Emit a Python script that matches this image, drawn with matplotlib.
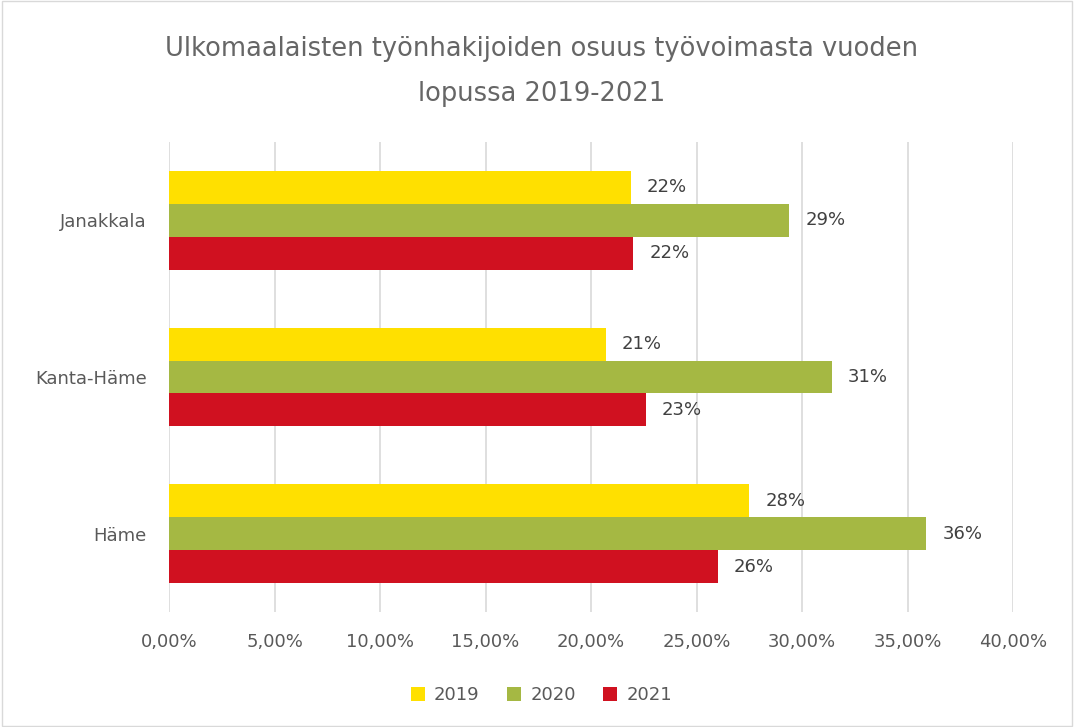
import numpy as np
import matplotlib.pyplot as plt
from matplotlib.patches import Rectangle
from matplotlib.ticker import FuncFormatter

# data (share, 0..1)
regions = ["Häme", "Kanta-Häme", "Janakkala"]
years = ["2019", "2020", "2021"]
share_2019 = [0.275, 0.207, 0.219]
share_2020 = [0.359, 0.314, 0.294]
share_2021 = [0.260, 0.226, 0.220]
colors = ["#FFE000", "#A5B843", "#D01120"]

title = "Ulkomaalaisten työnhakijoiden osuus työvoimasta vuoden\nlopussa 2019-2021"
text_col = "#595959"

plt.rcParams["font.family"] = ["DejaVu Sans"]

fig = plt.figure(figsize=(10.74, 7.27), dpi=100)
ax = fig.add_axes([0.1574, 0.1582, 0.7858, 0.6465])

# light frame round the whole chart
fig.patches.append(Rectangle((0.002, 0.002), 0.996, 0.996, transform=fig.transFigure,
                             fill=False, edgecolor="#D9D9D9", linewidth=1))

y = np.arange(len(regions))
h = 0.21
series = [share_2019, share_2020, share_2021]
for i, (vals, yr, col) in enumerate(zip(series, years, colors)):
    pos = y + (1 - i) * h
    bars = ax.barh(pos, vals, height=h, color=col, label=yr, zorder=3)
    for b, v in zip(bars, vals):
        ax.annotate(f"{v * 100:.0f}%", (v, b.get_y() + h / 2), xytext=(11.5, 0),
                    textcoords="offset points", ha="left", va="center",
                    fontsize=13, color="#404040")

ax.set_xlim(0, 0.40)
ax.set_ylim(-0.5, 2.5)
ax.set_xticks(np.arange(0, 0.401, 0.05))
ax.xaxis.set_major_formatter(FuncFormatter(lambda v, p: f"{v * 100:.2f}%".replace(".", ",")))
ax.set_yticks(y)
ax.set_yticklabels(regions)
ax.tick_params(axis="both", length=0, labelsize=13, colors=text_col)
ax.tick_params(axis="x", pad=15)
ax.tick_params(axis="y", pad=16)
ax.grid(axis="x", color="#D9D9D9", linewidth=1.2, zorder=0)
for s in ax.spines.values():
    s.set_visible(False)

fig.text(0.504, 0.95, title, ha="center", va="top", fontsize=18.5,
         color="#666666", linespacing=1.95)

fig.legend(loc="center", bbox_to_anchor=(0.504, 0.044), ncol=3, frameon=False,
           fontsize=13, handlelength=0.8, handleheight=0.8, handletextpad=0.5,
           columnspacing=1.5, labelcolor=text_col)

fig.savefig("out.png", dpi=100)
